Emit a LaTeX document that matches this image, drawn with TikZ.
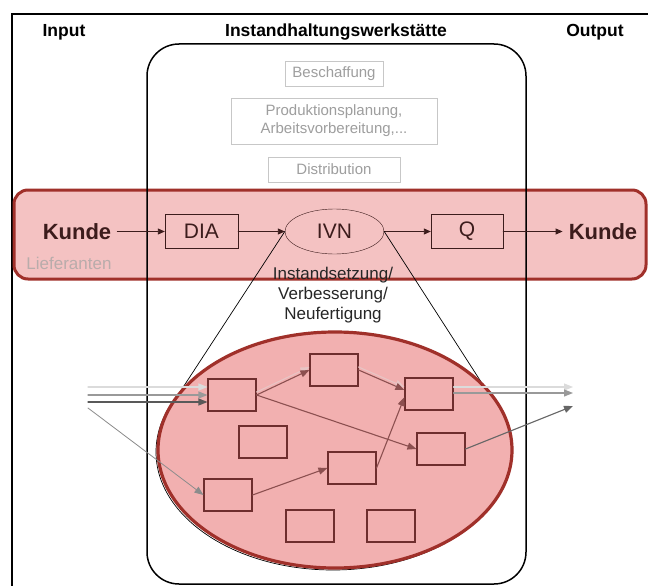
\documentclass[tikz,border=0pt]{standalone}
\usepackage{fontspec}
\setmainfont{Liberation Sans}
\usepackage{xcolor}
\usetikzlibrary{arrows.meta,shapes.geometric}
\definecolor{bandfill}{RGB}{244,194,194}
\definecolor{bandline}{RGB}{160,48,42}
\definecolor{zoomfill}{RGB}{242,176,176}
\definecolor{kundetxt}{RGB}{60,28,28}
\definecolor{cellline}{RGB}{110,46,46}
\definecolor{celldark}{RGB}{140,80,80}
\definecolor{celllight}{RGB}{232,196,196}

\begin{document}
\begin{tikzpicture}[x=1pt,y=-1pt,>={Triangle[length=7pt,width=6pt]},line cap=round,
  head/.style={font=\fontsize{17.5}{21}\selectfont\bfseries},
  graybox/.style={draw=black!22,text=black!38,font=\fontsize{15}{18}\selectfont,align=center,inner sep=0pt},
  proc/.style={draw=kundetxt,text=kundetxt,font=\fontsize{21}{24}\selectfont,minimum width=73pt,minimum height=34pt,inner sep=0pt},
  kunde/.style={text=kundetxt,font=\fontsize{22}{26}\selectfont\bfseries,inner sep=6pt},
  cell/.style={draw=cellline,line width=1.1pt,minimum width=48pt,minimum height=32pt,inner sep=0pt},
  flow/.style={->,line width=0.9pt,kundetxt},
  sub/.style={->,line width=1.1pt,>={Triangle[length=9pt,width=7pt]}}]
\useasboundingbox (0,0) rectangle (648,586);
\clip (0,0) rectangle (648,586);
\fill[white] (0,0) rectangle (648,586);
% frame and headings
\draw[line width=2.2pt] (12,620) |- (680,14);
\node[head] (input) at (64,32) {Input};
\node[head] (werk) at (336,32) {Instandhaltungswerkstätte};
\node[head] (output) at (595,32) {Output};
% band
\draw[bandline,fill=bandfill,line width=3pt,rounded corners=14pt] (14,190) rectangle (646,279);
\draw[line width=1.5pt,rounded corners=32pt] (147,44) rectangle (526,584);
\node[graybox,minimum width=98pt,minimum height=25pt] (besch) at (334,73.5) {Beschaffung};
\node[graybox,minimum width=206pt,minimum height=46pt] (plan) at (334,121) {Produktionsplanung,\\Arbeitsvorbereitung,...};
\node[graybox,minimum width=132pt,minimum height=25pt] (dist) at (334,169.5) {Distribution};
\node[kunde] (kin) at (77,231.5) {Kunde};
\node[proc] (dia) at (201.5,231.5) {DIA};
\node[proc,ellipse,minimum width=99pt,minimum height=45pt] (ivn) at (334.5,231.5) {IVN};
\node[proc,minimum width=72pt] (q) at (467,231.5) {Q};
\node[kunde] (kout) at (603,231.5) {Kunde};
\node[text=bandline!35!black!35,font=\fontsize{17}{20}\selectfont] (lief) at (69,263) {Lieferanten};
\draw[flow] (kin) -- (dia);
\draw[flow] (dia) -- (ivn);
\draw[flow] (ivn) -- (q);
\draw[flow] (q) -- (kout);
\node[font=\fontsize{17}{20}\selectfont,align=center,text=black!85] (ivntext) at (333,295) {Instandsetzung/\\Verbesserung/\\Neufertigung};
% zoom into IVN
\coordinate (fl) at (178,395);
\coordinate (fr) at (485,388);
\draw[line width=0.7pt] (ivn.west) -- (fl);
\draw[line width=0.7pt] (ivn.east) -- (fr);
\draw[line width=0.7pt] (333,452) ellipse [x radius=177pt,y radius=118pt];
\node[ellipse,draw=bandline,fill=zoomfill,line width=3.2pt,minimum width=354pt,minimum height=236pt] (detail) at (335,450) {};
\node[cell] (b1) at (232,395) {};
\node[cell] (b2) at (334,370) {};
\node[cell] (b3) at (429,394) {};
\node[cell] (b4) at (263,442) {};
\node[cell] (b5) at (441,449) {};
\node[cell] (b6) at (352,468) {};
\node[cell] (b7) at (228,495) {};
\node[cell] (b8) at (310,526) {};
\node[cell] (b9) at (391,526) {};
% flows between the cells
\coordinate (in1) at (88,387);
\coordinate (in2) at (88,395);
\coordinate (in3) at (88,402);
\coordinate (in4) at (88,408);
\coordinate (out1) at (573,387);
\coordinate (out2) at (573,393);
\coordinate (out3) at (573,406);
\draw[sub,black!14] (in1) -- (in1 -| b1.west);
\draw[sub,black!40] (in2) -- (in2 -| b1.west);
\draw[sub,black!65] (in3) -- (in3 -| b1.west);
\draw[sub,black!45,line width=0.8pt] (in4) -- (b7.west);
\draw[sub,celllight,transform canvas={yshift=3pt}] (b1.east) -- (b2.west);
\draw[sub,celldark] (b1.east) -- (b2.west);
\draw[sub,celllight,transform canvas={yshift=3pt}] (b2.east) -- ([yshift=4pt]b3.west);
\draw[sub,celldark] (b2.east) -- ([yshift=4pt]b3.west);
\draw[sub,celldark] (b1.east) -- (b5.west);
\draw[sub,celldark] (b7.east) -- (b6.west);
\draw[sub,celldark] (b6.east) -- ([yshift=-3pt]b3.west);
\draw[sub,black!14] (b3.east |- out1) -- (out1);
\draw[sub,black!40] (b3.east |- out2) -- (out2);
\draw[sub,black!60] (b5.east) -- (out3);
\end{tikzpicture}
\end{document}
